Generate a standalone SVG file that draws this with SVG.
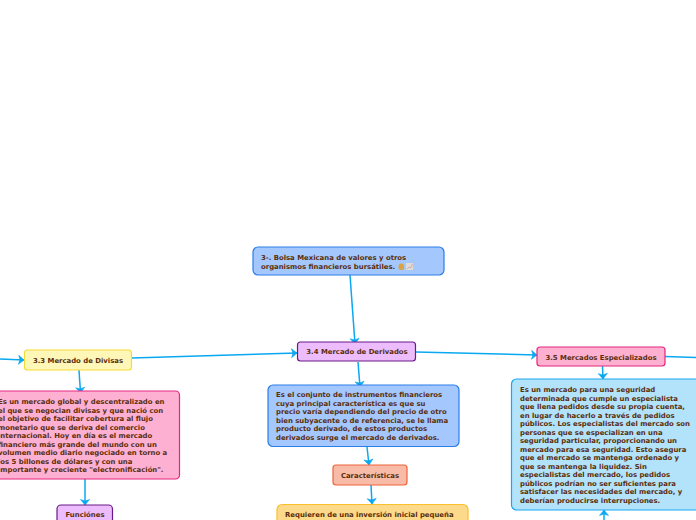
<svg xmlns="http://www.w3.org/2000/svg" width="696" height="520" viewBox="0 0 696 520">
<style>
text{font-family:"DejaVu Sans",sans-serif;font-weight:700;font-size:6.9px;fill:#5a2d0c}
.c{text-anchor:middle}
.e{fill:none;stroke:#0aa8f0;stroke-width:1.5}
rect{stroke-width:1.2}
</style>
<defs><marker id="a" markerUnits="userSpaceOnUse" markerWidth="12" markerHeight="12" refX="7" refY="5" orient="auto"><path d="M1.500 0.500L7 5L1.500 9.500L3 5Z" fill="#0aa8f0" stroke="#0aa8f0" stroke-width="0.6"/></marker></defs>
<g id="connectors">
<path class="e" marker-end="url(#a)" d="M350 275L355 344"/>
<path class="e" marker-end="url(#a)" d="M132 358L297 353"/>
<path class="e" marker-end="url(#a)" d="M0 359L24 360"/>
<path class="e" marker-end="url(#a)" d="M416 352L537 355"/>
<path class="e" d="M665 356.500L696 357.500"/>
<path class="e" marker-end="url(#a)" d="M358 362L360 387"/>
<path class="e" marker-end="url(#a)" d="M79 370L80.500 393"/>
<path class="e" marker-end="url(#a)" d="M85 479L85 505"/>
<path class="e" marker-end="url(#a)" d="M367 447L369 465"/>
<path class="e" marker-end="url(#a)" d="M371 485L372 504"/>
<path class="e" marker-end="url(#a)" d="M602.500 366L603 379"/>
<path class="e" marker-end="url(#a)" d="M604 520L604 510"/>
</g>
<g id="n1"><rect x="253" y="247" width="191" height="28" rx="5" fill="#a4c8fd" stroke="#2b7de9"/><text x="261" y="259.500">3-. Bolsa Mexicana de valores y otros</text><text x="261" y="268.500">organismos financieros bursátiles.</text><rect x="398.500" y="263.500" width="5.500" height="6.500" rx="2.500" fill="#d9a441" stroke="none"/><rect x="406" y="263" width="7" height="7" fill="#dcdcdc" stroke="none"/><path d="M407 269L409 267L410.500 268L412.500 264" fill="none" stroke="#d98a6a" stroke-width="0.6"/></g>
<g id="n2"><rect x="297.500" y="342" width="118" height="19" rx="3" fill="#ecbcfc" stroke="#6a1b8a"/><text x="357" y="354" class="c">3.4 Mercado de Derivados</text></g>
<g id="n3"><rect x="24.500" y="350" width="107" height="20" rx="3" fill="#fff7b8" stroke="#f5dc35"/><text x="78" y="363" class="c">3.3 Mercado de Divisas</text></g>
<g id="n4"><rect x="537" y="347" width="128" height="19" rx="3" fill="#fdb0d0" stroke="#e8247f"/><text x="601" y="359.500" class="c">3.5 Mercados Especializados</text></g>
<g id="n5"><rect x="-12" y="391" width="191.500" height="88" rx="4" fill="#feb0d2" stroke="#e8247f"/><text x="-2" y="404">Es un mercado global y descentralizado en</text><text x="-2" y="412.500">el que se negocian divisas y que nació con</text><text x="-2" y="421">el objetivo de facilitar cobertura al flujo</text><text x="-2" y="429.500">monetario que se deriva del comercio</text><text x="-2" y="438">internacional. Hoy en día es el mercado</text><text x="-2" y="446.500">financiero más grande del mundo con un</text><text x="-2" y="455">volumen medio diario negociado en torno a</text><text x="-2" y="463.500">los 5 billones de dólares y con una</text><text x="-2" y="472">importante y creciente "electronificación".</text></g>
<g id="n6"><rect x="57" y="505" width="55.500" height="25" rx="4" fill="#ecbcfc" stroke="#6a1b8a"/><text x="85" y="517" class="c">Funciónes</text></g>
<g id="n7"><rect x="268" y="385" width="191" height="61.500" rx="5" fill="#a4c8fd" stroke="#2b7de9"/><text x="276" y="397">Es el conjunto de instrumentos financieros</text><text x="276" y="405.500">cuya principal característica es que su</text><text x="276" y="414">precio varía dependiendo del precio de otro</text><text x="276" y="422.500">bien subyacente o de referencia, se le llama</text><text x="276" y="431">producto derivado, de estos productos</text><text x="276" y="439.500">derivados surge el mercado de derivados.</text></g>
<g id="n8"><rect x="333" y="465" width="74" height="20" rx="3" fill="#f8bba8" stroke="#f0623a"/><text x="370" y="478" class="c">Características</text></g>
<g id="n9"><rect x="277" y="504.500" width="191" height="30" rx="5" fill="#fdd98a" stroke="#fbc02d"/><text x="285" y="517">Requieren de una inversión inicial pequeña</text></g>
<g id="n10"><rect x="511.500" y="379" width="200" height="131" rx="5" fill="#b3e3fb" stroke="#1ba8ee"/><text x="520" y="392">Es un mercado para una seguridad</text><text x="520" y="400.500">determinada que cumple un especialista</text><text x="520" y="409">que llena pedidos desde su propia cuenta,</text><text x="520" y="417.500">en lugar de hacerlo a través de pedidos</text><text x="520" y="426">públicos. Los especialistas del mercado son</text><text x="520" y="434.500">personas que se especializan en una</text><text x="520" y="443">seguridad particular, proporcionando un</text><text x="520" y="451.500">mercado para esa seguridad. Esto asegura</text><text x="520" y="460">que el mercado se mantenga ordenado y</text><text x="520" y="468.500">que se mantenga la liquidez. Sin</text><text x="520" y="477">especialistas del mercado, los pedidos</text><text x="520" y="485.500">públicos podrían no ser suficientes para</text><text x="520" y="494">satisfacer las necesidades del mercado, y</text><text x="520" y="502.500">deberían producirse interrupciones.</text></g>
</svg>
